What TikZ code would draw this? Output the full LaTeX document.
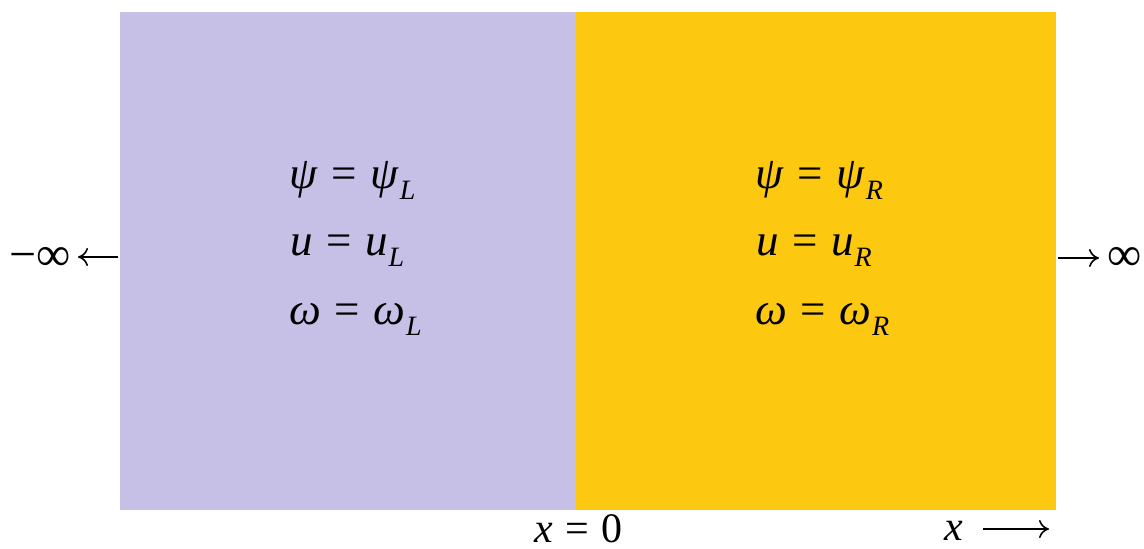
\documentclass[tikz,border=0pt]{standalone}
\usepackage{fontspec}
\setmainfont{Liberation Serif}
\usetikzlibrary{arrows.meta}
\definecolor{lav}{RGB}{198,192,230}
\definecolor{gold}{RGB}{253,200,16}
\newcommand\subsc[1]{\hspace{1pt}\raisebox{-11pt}{\fontsize{28}{30}\selectfont\textit{#1}}}
\newcommand\eqsp{\hspace{0.3em}=\hspace{0.3em}}
\begin{document}
\begin{tikzpicture}[x=1pt,y=-1pt,
  eq/.style={anchor=base west, inner sep=0pt, font=\fontsize{45}{52}\selectfont},
  lbl/.style={inner sep=0pt, font=\fontsize{42}{48}\selectfont},
  inf/.style={inner sep=0pt, font=\fontsize{48}{52}\selectfont},
  arr/.style={line width=1.6pt, -{Computer Modern Rightarrow[length=10pt,width=18pt,line width=1.6pt]}}]
\useasboundingbox (0,0) rectangle (1144,549);
\fill[lav] (120,12) rectangle (576,510);
\fill[gold] (576,12) rectangle (1056,510);
% left region
\node[eq] (l1) at (289,188) {\textit{ψ}\eqsp\textit{ψ}\subsc{L}};
\node[eq] (l2) at (290,255) {\textit{u}\eqsp\textit{u}\subsc{L}};
\node[eq] (l3) at (289,324) {\textit{ω}\eqsp\textit{ω}\subsc{L}};
% right region
\node[eq] (r1) at (755,188) {\textit{ψ}\eqsp\textit{ψ}\subsc{R}};
\node[eq] (r2) at (756,255) {\textit{u}\eqsp\textit{u}\subsc{R}};
\node[eq] (r3) at (755,324) {\textit{ω}\eqsp\textit{ω}\subsc{R}};
% infinities
\node[inf, anchor=base west] (minf) at (9,270) {−∞};
\node[inf, anchor=base west] (pinf) at (1107,270) {∞};
\coordinate (lstart) at (118,257);
\coordinate (lend) at (78,257);
\coordinate (rstart) at (1058,258);
\coordinate (rend) at (1099,258);
\draw[arr] (lstart) -- (lend);
\draw[arr] (rstart) -- (rend);
% bottom labels
\node[lbl, anchor=base west] (x0) at (534,542) {\textit{x}\hspace{0.3em}=\hspace{0.3em}0};
\node[lbl, anchor=base west] (xax) at (944,540) {\textit{x}};
\coordinate (xs) at (983,529);
\coordinate (xe) at (1049,529);
\draw[arr] (xs) -- (xe);
\end{tikzpicture}
\end{document}
